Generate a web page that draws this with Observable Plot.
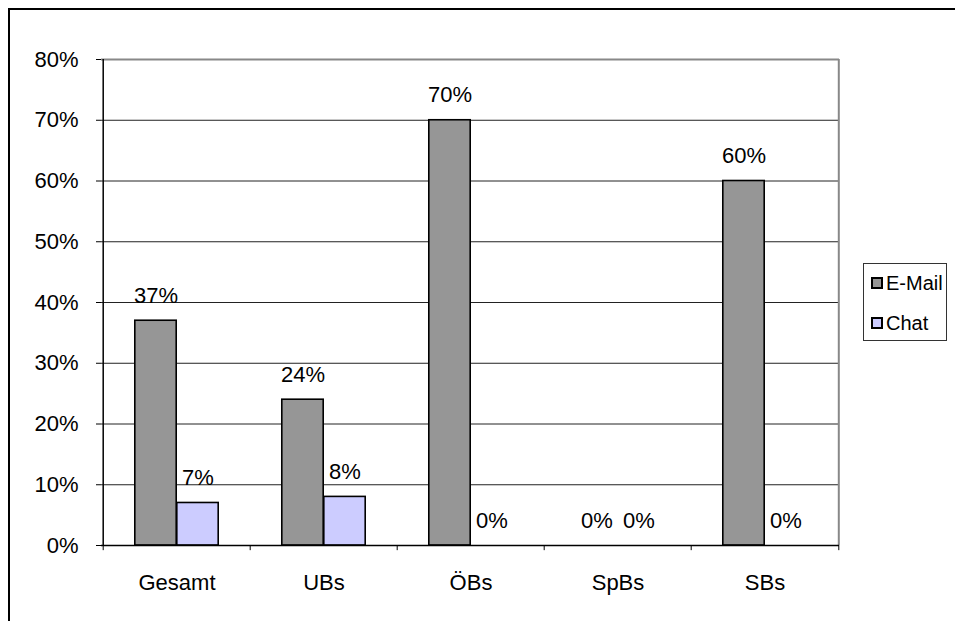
<!DOCTYPE html>
<html>
<head>
<meta charset="utf-8">
<script src="https://cdn.jsdelivr.net/npm/d3@7"></script>
<script src="https://cdn.jsdelivr.net/npm/@observablehq/plot@0.6"></script>
<style>
  html, body { margin: 0; padding: 0; background: #fff; overflow: hidden; }
  #wrap { position: relative; width: 955px; height: 621px; font-family: "Liberation Sans", Arial, sans-serif; }
  #outer { position: absolute; left: 8px; top: 8px; width: 1000px; height: 700px; border: 2px solid #000; box-sizing: border-box; }
  #chart { position: absolute; left: 0; top: 0; }
  #legend { position: absolute; left: 863px; top: 263px; width: 84px; height: 78px; border: 1px solid #333; box-sizing: border-box; background: #fff; font-size: 20px; line-height: 20px; color: #000; }
  .item { position: absolute; left: 7px; display: flex; align-items: center; height: 20px; }
  .sw { width: 8px; height: 8px; border: 2px solid #000; margin-right: 3px; }
</style>
</head>
<body>
<div id="wrap">
  <div id="outer"></div>
  <div id="chart"></div>
  <div id="legend"></div>
</div>
<script>
const categories = ["Gesamt", "UBs", "ÖBs", "SpBs", "SBs"];
const seriesNames = ["E-Mail", "Chat"];
const emailValues = [0.37, 0.24, 0.70, 0.00, 0.60];
const chatValues = [0.07, 0.08, 0.00, 0.00, 0.00];
const yTicks = [0, 0.1, 0.2, 0.3, 0.4, 0.5, 0.6, 0.7, 0.8];
const colors = ["#969696", "#CCCCFF"];

const W = 955, H = 621;
const mL = 101, mR = 116, mT = 59, mB = 76;
const step = (W - mL - mR) / categories.length;
const half = step / 2;
const barW = 42;
const FS = 22;

const data = categories.flatMap((c, i) => [
  {cat: c, series: seriesNames[0], value: emailValues[i]},
  {cat: c, series: seriesNames[1], value: chatValues[i]}
]);
const emailData = data.filter(d => d.series === seriesNames[0]);
const chatData = data.filter(d => d.series === seriesNames[1]);
const fmt = d3.format(".0%");

const plot = Plot.plot({
  width: W, height: H,
  marginLeft: mL, marginRight: mR, marginTop: mT, marginBottom: mB,
  style: {fontFamily: "Liberation Sans, Arial, sans-serif", fontSize: FS + "px", color: "#000", background: "transparent"},
  x: {type: "band", domain: categories, padding: 0, label: null},
  y: {domain: [0, 0.8], label: null},
  marks: [
    Plot.ruleY(yTicks.filter(t => t > 0 && t < 0.8), {stroke: "#222", strokeWidth: 1}),
    Plot.ruleY([0.8], {stroke: "#888", strokeWidth: 2}),
    Plot.ruleX([categories[categories.length - 1]], {y1: 0, y2: 0.8, dx: half, stroke: "#888", strokeWidth: 2}),
    Plot.barY(emailData.filter(d => d.value > 0), {x: "cat", y: "value", fill: colors[0], stroke: "#000", strokeWidth: 1.6, insetLeft: half - barW, insetRight: half}),
    Plot.barY(chatData.filter(d => d.value > 0), {x: "cat", y: "value", fill: colors[1], stroke: "#000", strokeWidth: 1.6, insetLeft: half, insetRight: half - barW}),
    Plot.text(emailData, {x: "cat", y: "value", text: d => fmt(d.value), dx: -barW / 2, dy: -25, fill: "#000", fontSize: FS}),
    Plot.text(chatData, {x: "cat", y: "value", text: d => fmt(d.value), dx: barW / 2, dy: -25, fill: "#000", fontSize: FS}),
    Plot.ruleX(categories, {x: d => d, y1: 0, y2: -0.0085, dx: -half, stroke: "#000", strokeWidth: 1}),
    Plot.ruleX([categories[categories.length - 1]], {y1: 0, y2: -0.0085, dx: half, stroke: "#000", strokeWidth: 1}),
    Plot.axisY({ticks: yTicks, tickFormat: fmt, tickSize: 5, tickPadding: 18, stroke: "#000", fontSize: FS}),
    Plot.axisX({tickSize: 0, tickPadding: 29, fontSize: FS}),
    Plot.ruleY([0], {stroke: "#000", strokeWidth: 1.5}),
    Plot.ruleX([categories[0]], {y1: 0, y2: 0.8, dx: -half, stroke: "#000", strokeWidth: 1.5})
  ]
});
document.getElementById("chart").appendChild(plot);

const legend = document.getElementById("legend");
seriesNames.forEach((name, i) => {
  const item = document.createElement("div");
  item.className = "item";
  item.style.top = (i === 0 ? 9 : 49) + "px";
  const sw = document.createElement("div");
  sw.className = "sw";
  sw.style.background = colors[i];
  const label = document.createElement("span");
  label.textContent = name;
  item.appendChild(sw);
  item.appendChild(label);
  legend.appendChild(item);
});
</script>
</body>
</html>
